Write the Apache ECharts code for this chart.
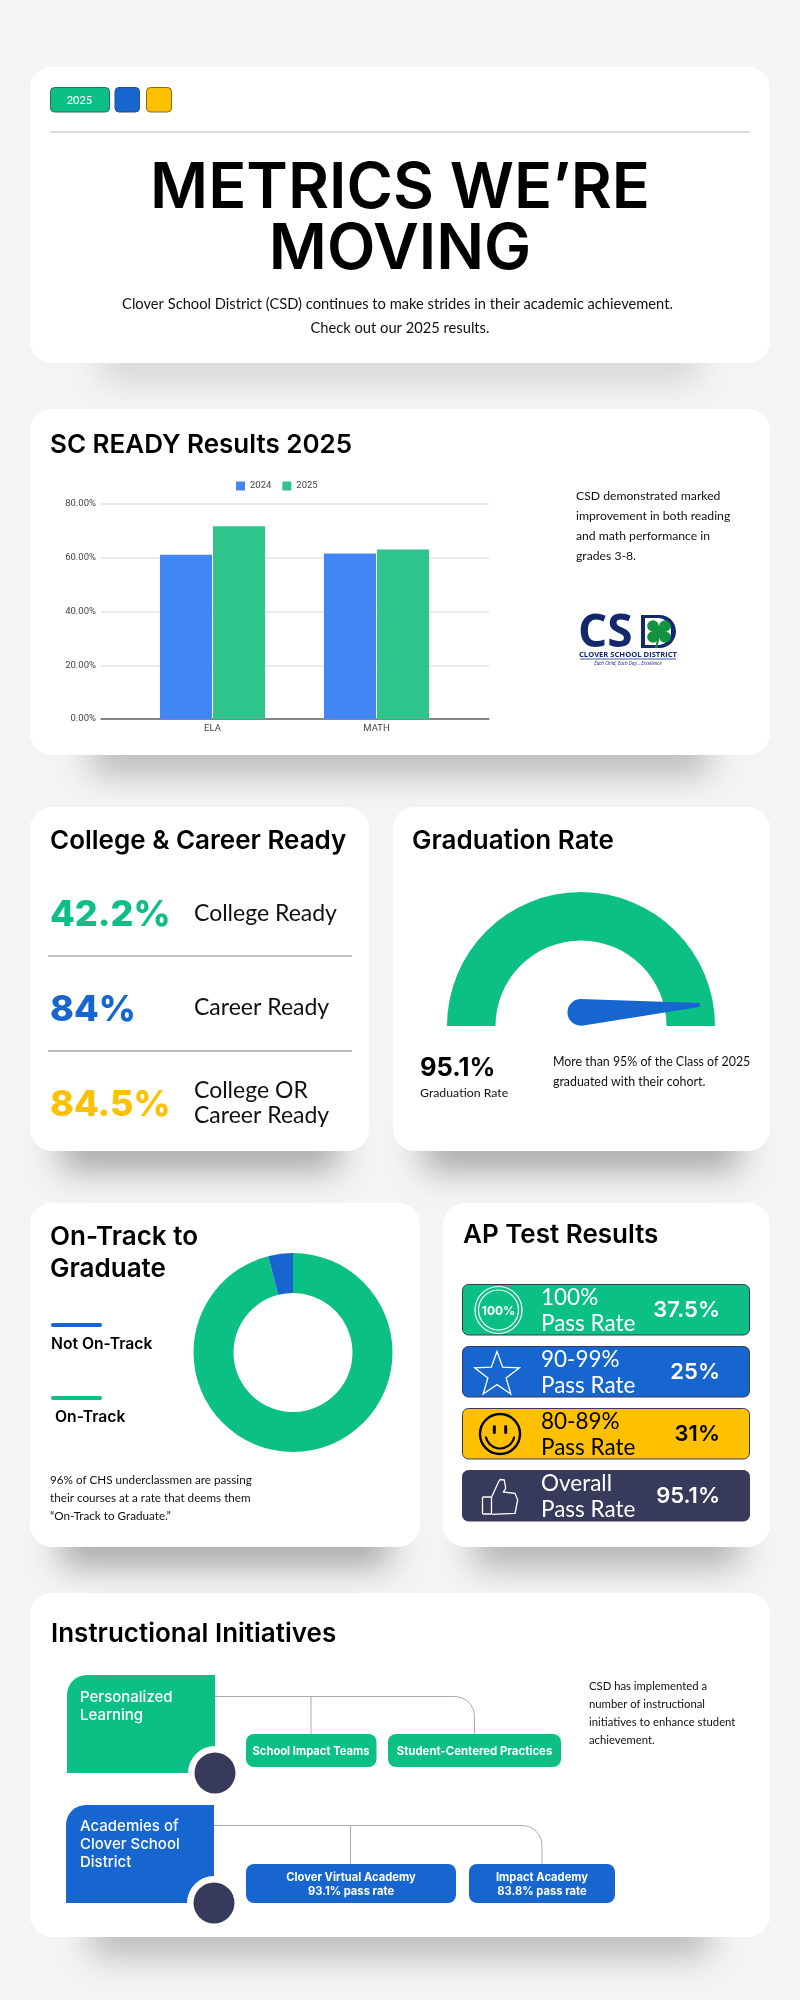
<!DOCTYPE html>
<html>
<head>
<meta charset="utf-8">
<style>html,body{margin:0;padding:0;background:#f4f4f4}#main{width:800px;height:2000px}</style>
<script src="https://cdn.jsdelivr.net/npm/echarts@6/dist/echarts.min.js"></script>
</head>
<body>
<div id="main"></div>
<script>
// chart data
const subjects = ['ELA', 'MATH']
const years = ['2024', '2025']
const scores2024 = [61.1, 61.6]
const scores2025 = [71.7, 63.1]
const gradRate = 95.1
const trackNames = ['On-Track', 'Not On-Track']
const trackValues = [96, 4]
const readyValues = ['42.2%', '84%', '84.5%']
const apBands = ['100%', '90-99%', '80-89%', 'Overall']
const apValues = ['37.5%', '25%', '31%', '95.1%']

const GREEN = '#0cbf85'
const BLUE = '#1765cf'
const YELLOW = '#ffc000'
const NAVY = '#383a5c'
const HEAD = 'Inter, sans-serif'
const BODY = 'Lato, sans-serif'

const els = []

function text(str, x, base, size, opt = {}) {
  els.push({
    type: 'text',
    style: {
      text: str, x, y: base - size * 0.3,
      font: `${opt.italic ? 'italic ' : ''}${opt.weight || 400} ${size}px ${opt.family || BODY}`,
      fill: opt.color || '#111',
      align: opt.align || 'left',
      verticalAlign: 'middle',
    },
  })
}
function rect(x, y, w, h, r, fill, extra = {}) {
  els.push({ type: 'rect', shape: { x, y, width: w, height: h, r }, style: { fill, ...extra } })
}
function line(x1, y1, x2, y2, color, w = 1) {
  els.push({ type: 'line', shape: { x1, y1, x2, y2 }, style: { stroke: color, lineWidth: w } })
}
function circle(cx, cy, r, style) {
  els.push({ type: 'circle', shape: { cx, cy, r }, style })
}

function card(x, y, w, h, inset, depth) {
  // soft shadow sits under the lower edge, narrower than the card
  rect(x + inset, y + h - 40, w - inset * 2, 40, 10, '#aaa', {
    shadowBlur: 34, shadowOffsetY: 18, shadowColor: `rgba(0,0,0,${depth})`,
  })
  rect(x, y, w, h, 22, '#fff')
}

card(30, 67, 740, 296, 70, 0.13)
card(30, 409, 740, 346, 60, 0.26)
card(30, 807, 339, 344, 30, 0.34)
card(393, 807, 377, 344, 30, 0.34)
card(30, 1203, 390, 344, 30, 0.34)
card(443, 1203, 327, 344, 30, 0.3)
card(30, 1593, 740, 344, 60, 0.26)

// header
rect(50.5, 87.5, 59, 24.5, 4, GREEN, { stroke: '#2b6e5e', lineWidth: 1 })
rect(115, 87.5, 24.5, 24.5, 4, BLUE, { stroke: '#2f4d7e', lineWidth: 1 })
rect(146.5, 87.5, 25, 24.5, 4, YELLOW, { stroke: '#7d6a2c', lineWidth: 1 })
text('2025', 79.5, 104, 11, { color: '#fff', align: 'center', weight: 500 })
line(50, 132, 750, 132, '#dddddd', 2)
text('METRICS WE’RE', 400, 208, 63, { family: HEAD, weight: 600, color: '#000', align: 'center' })
text('MOVING', 400, 269, 63, { family: HEAD, weight: 600, color: '#000', align: 'center' })
text('Clover School District (CSD) continues to make strides in their academic achievement.', 397.5, 309, 14.7, { align: 'center' })
text('Check out our 2025 results.', 400, 333, 14.7, { align: 'center' })

// section headings
const H2 = { family: HEAD, weight: 600, color: '#000' }
text('SC READY Results 2025', 50, 453, 26, H2)
text('College & Career Ready', 50, 849, 26, H2)
text('Graduation Rate', 412, 849, 26, H2)
text('On-Track to', 50, 1245, 26, H2)
text('Graduate', 50, 1277, 26, H2)
text('AP Test Results', 463, 1243, 26, H2)
text('Instructional Initiatives', 51, 1642, 26, H2)

// SC READY note and logo
;['CSD demonstrated marked', 'improvement in both reading', 'and math performance in', 'grades 3-8.'].forEach((s, i) =>
  text(s, 576, 500 + i * 20, 12.2))
text('CS', 578, 648, 46, { family: 'Open Sans', weight: 700, color: '#14296b' })
rect(641, 615, 35, 33, [0, 17, 17, 0], '#14296b')
rect(645, 618, 26, 27, [0, 13, 13, 0], '#fff')
;[[653, 626], [665, 626], [653, 637], [665, 637], [659, 631.5]].forEach(p => circle(p[0], p[1], 5.8, { fill: '#12933f' }))
line(659, 636, 656, 648, '#12933f', 2)
text('CLOVER SCHOOL DISTRICT', 628, 657, 7.6, { family: 'Open Sans', weight: 700, color: '#14296b', align: 'center' })
line(580, 659, 676, 659, '#3a5aa8', 1)
text('Each Child, Each Day... Excellence', 628, 665, 4.6, { family: 'Open Sans', italic: true, color: '#14296b', align: 'center' })

// College & Career rows
const readyColors = [GREEN, BLUE, YELLOW]
const readyBase = [926, 1021, 1116]
readyValues.forEach((v, i) =>
  text(v, 50, readyBase[i], 36, { family: HEAD, weight: 800, color: readyColors[i] }))
const LABEL = { family: BODY, color: '#111' }
text('College Ready', 194, 920, 23, LABEL)
text('Career Ready', 194, 1014, 23, LABEL)
text('College OR', 194, 1097, 23, LABEL)
text('Career Ready', 194, 1122, 23, LABEL)
line(48, 956, 352, 956, '#888888', 1)
line(48, 1051, 352, 1051, '#bbbbbb', 2)

// Graduation text
text(gradRate + '%', 420, 1076, 25.5, { family: HEAD, weight: 700, color: '#000' })
text('Graduation Rate', 420, 1097, 12.3)
text('More than 95% of the Class of 2025', 553, 1066, 12.4)
text('graduated with their cohort.', 553, 1086, 12.4)

// On-Track legend and note
rect(51, 1323, 51, 4, 2, BLUE)
rect(51, 1396, 51, 4, 2, GREEN)
text(trackNames[1], 51, 1349, 15.7, { family: HEAD, weight: 600, color: '#000' })
text(trackNames[0], 55, 1422, 15.7, { family: HEAD, weight: 600, color: '#000' })
;['96% of CHS underclassmen are passing', 'their courses at a rate that deems them', '“On-Track to Graduate.”'].forEach((s, i) =>
  text(s, 50, 1484 + i * 18, 11.7))

// AP rows
const apRowY = [1284, 1346, 1408, 1470]
const apFill = [GREEN, BLUE, YELLOW, NAVY]
const apInk = ['#fff', '#fff', '#000', '#fff']
apBands.forEach((band, i) => {
  const y = apRowY[i]
  rect(462.5, y + 0.5, 287, 50.5, 6, apFill[i], { stroke: NAVY, lineWidth: 1 })
  text(band, 541, y + 20, 22.5, { color: apInk[i] })
  text('Pass Rate', 541, y + 46, 22.5, { color: apInk[i] })
  text(apValues[i], 720, y + 33, 22, { family: HEAD, weight: 600, color: apInk[i], align: 'right' })
})

// AP icons
circle(498.5, 1310, 23.5, { fill: 'none', stroke: '#fff', lineWidth: 1.2 })
circle(498.5, 1310, 20, { fill: 'none', stroke: '#fff', lineWidth: 1.2 })
text('100%', 498.5, 1314.5, 12, { family: HEAD, weight: 700, color: '#fff', align: 'center' })

const starPts = []
for (let i = 0; i < 10; i++) {
  const a = -Math.PI / 2 + i * Math.PI / 5
  const r = i % 2 ? 9.6 : 23.5
  starPts.push([497 + r * Math.cos(a), 1375 + r * Math.sin(a)])
}
els.push({ type: 'polygon', shape: { points: starPts }, style: { fill: 'none', stroke: '#fff', lineWidth: 1.3 } })

circle(500, 1434, 20, { fill: 'none', stroke: '#000', lineWidth: 2.4 })
rect(492.8, 1425, 3, 9, 1.5, '#000')
rect(504.2, 1425, 3, 9, 1.5, '#000')
els.push({
  type: 'arc',
  shape: { cx: 500, cy: 1434, r: 14.5, startAngle: 0.18, endAngle: Math.PI - 0.18, clockwise: true },
  style: { fill: 'none', stroke: '#000', lineWidth: 2.2 },
})

rect(482.5, 1497, 9, 17, 1, 'none', { stroke: '#fff', lineWidth: 1.3 })
els.push({
  type: 'polyline',
  shape: { points: [[491.7, 1497], [498, 1483], [500, 1479.5], [504.3, 1480], [505.7, 1488.3], [503.3, 1492], [515, 1493.3], [517.7, 1500], [515, 1513.3], [491.7, 1514.3]] },
  style: { fill: 'none', stroke: '#fff', lineWidth: 1.3, lineJoin: 'round' },
})

// Initiatives
function branch(xs, xEnd, y, yEnd, color) {
  line(xs[0], y, xEnd - 20, y, color)
  els.push({
    type: 'arc',
    shape: { cx: xEnd - 20, cy: y + 20, r: 20, startAngle: -Math.PI / 2, endAngle: 0, clockwise: true },
    style: { fill: 'none', stroke: color, lineWidth: 1 },
  })
  line(xEnd, y + 20, xEnd, yEnd, color)
  line(xs[1], y, xs[1], yEnd, color)
}
branch([215, 311], 474.5, 1696.5, 1734, '#aaaaaa')
branch([214, 350.5], 542, 1825.5, 1864, '#aaaaaa')

rect(67, 1675, 148, 98, [20, 0, 0, 0], GREEN)
rect(66, 1805, 148, 98, [20, 0, 0, 0], BLUE)
circle(215, 1773, 27, { fill: '#fff' })
circle(214, 1903, 27, { fill: '#fff' })
circle(215, 1773, 20.5, { fill: NAVY })
circle(214, 1903, 20.5, { fill: NAVY })

const TILE = { family: HEAD, weight: 500, color: '#fff' }
text('Personalized', 80, 1702, 15, TILE)
text('Learning', 80, 1720, 15, TILE)
text('Academies of', 80, 1831, 15, TILE)
text('Clover School', 80, 1849, 15, TILE)
text('District', 80, 1867, 15, TILE)

const PILL = { family: HEAD, weight: 700, color: '#fff', align: 'center' }
rect(246, 1734, 130.5, 33, 8, GREEN)
rect(388, 1734, 173, 33, 8, GREEN)
rect(246, 1864, 210, 39, 8, BLUE)
rect(469, 1864, 146, 39, 8, BLUE)
text('School Impact Teams', 311, 1755, 11.2, PILL)
text('Student-Centered Practices', 474.5, 1755, 11.4, PILL)
text('Clover Virtual Academy', 351, 1881, 11.2, PILL)
text('93.1% pass rate', 351, 1895, 11.2, PILL)
text('Impact Academy', 542, 1881, 11.2, PILL)
text('83.8% pass rate', 542, 1895, 11.2, PILL)

;['CSD has implemented a', 'number of instructional', 'initiatives to enhance student', 'achievement.'].forEach((s, i) =>
  text(s, 589, 1690 + i * 18, 11.3))

const chart = echarts.init(document.getElementById('main'), null, { renderer: 'canvas', width: 800, height: 2000 })

const tick = { fontSize: 9.5, color: '#444', fontFamily: 'Roboto, sans-serif' }
const hiddenGauge = {
  axisLine: { show: false }, axisTick: { show: false }, splitLine: { show: false },
  axisLabel: { show: false }, title: { show: false }, detail: { show: false },
}

chart.setOption({
  backgroundColor: '#f4f4f4',
  animation: false,
  tooltip: { show: false },
  graphic: { elements: els },
  legend: {
    left: 231, top: 476, icon: 'rect', itemWidth: 9, itemHeight: 9, itemGap: 11,
    data: years,
    textStyle: { fontSize: 9.5, color: '#444', fontFamily: 'Roboto, sans-serif' },
  },
  // grid 0 carries the long gridlines, grid 1 the narrower category bands
  grid: [
    { left: 101, top: 504, width: 388, height: 215 },
    { left: 130.5, top: 504, width: 328, height: 215 },
  ],
  xAxis: [
    {
      type: 'category', gridIndex: 0, data: subjects,
      axisLine: { lineStyle: { color: '#666', width: 1.5 } },
      axisTick: { show: false }, axisLabel: { show: false },
    },
    {
      type: 'category', gridIndex: 1, data: subjects,
      axisLine: { show: false }, axisTick: { show: false },
      axisLabel: { ...tick, margin: 5 },
    },
  ],
  yAxis: [
    {
      type: 'value', gridIndex: 0, min: 0, max: 80, interval: 20,
      axisLine: { show: false }, axisTick: { show: false },
      axisLabel: { ...tick, margin: 5, formatter: v => v.toFixed(2) + '%' },
      splitLine: { lineStyle: { color: '#e3e3e3', width: 1.5 } },
    },
    {
      type: 'value', gridIndex: 1, min: 0, max: 80, interval: 20,
      axisLine: { show: false }, axisTick: { show: false },
      axisLabel: { show: false }, splitLine: { show: false },
    },
  ],
  series: [
    {
      name: years[0], type: 'bar', xAxisIndex: 1, yAxisIndex: 1,
      data: scores2024, barWidth: 52, barGap: '2%', itemStyle: { color: '#4285f4' },
    },
    {
      name: years[1], type: 'bar', xAxisIndex: 1, yAxisIndex: 1,
      data: scores2025, barWidth: 52, barGap: '2%', itemStyle: { color: '#30c48d' },
    },
    {
      type: 'gauge', center: [581, 1026], radius: 134, startAngle: 180, endAngle: 0,
      min: 0, max: 100, data: [{ value: gradRate }],
      ...hiddenGauge,
      axisLine: { show: true, roundCap: false, lineStyle: { width: 48.5, color: [[1, GREEN]] } },
      pointer: { show: false },
    },
    {
      // needle pivots on the end of its round base, a little above the gauge baseline
      type: 'gauge', center: [567.5, 1013.2], radius: 130, startAngle: 180, endAngle: -5.5,
      min: 0, max: 100, data: [{ value: gradRate }],
      ...hiddenGauge,
      pointer: {
        show: true, length: 133, width: 26.6,
        icon: 'path://M11.3 2Q13.3 0 15.3 2L26.6 119.5A13.3 13.3 0 0 1 0 119.5Z',
        itemStyle: { color: BLUE },
      },
    },
    {
      type: 'pie', center: [293, 1352.5], radius: [59.5, 99.5], startAngle: 90, clockwise: true,
      label: { show: false }, labelLine: { show: false },
      data: [
        { name: trackNames[0], value: trackValues[0], itemStyle: { color: GREEN } },
        { name: trackNames[1], value: trackValues[1], itemStyle: { color: BLUE } },
      ],
    },
  ],
})
</script>
</body>
</html>
